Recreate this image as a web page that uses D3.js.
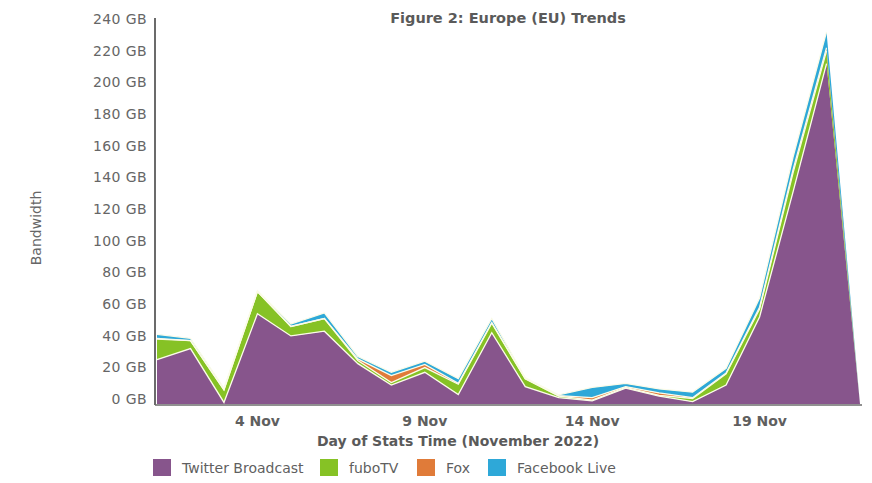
<!DOCTYPE html>
<html>
<head>
<meta charset="utf-8">
<style>
  body { margin: 0; background: #fff; }
  text { font-family: "DejaVu Sans", sans-serif; fill: #666; }
  .title, .x-title { font-weight: bold; fill: #5a5a5a; }
</style>
</head>
<body>
<div id="chart-area"></div>

<script src="https://cdn.jsdelivr.net/npm/d3@7/dist/d3.min.js"></script>
<script>
    // one point per day, 1 Nov .. 22 Nov 2022 (values in GB)
    const days = d3.range(1, 23).map(d => new Date(2022, 10, d));
    const twitter  = [28, 35, 1, 57, 43, 46, 25.5, 12, 20, 6, 45, 11, 4, 2, 10, 5, 1.5, 12, 55, 134, 215, 0];
    const fubo     = [13, 5, 8, 14, 6, 8, 2, 1.5, 3, 6.5, 6, 5, 1, 0.5, 0.5, 0.5, 2, 7, 5, 12, 8, 0];
    const fox      = [0.5, 0, 0, 0, 0, 0, 1, 4.5, 2, 0.5, 0.5, 0, 0.3, 1.5, 0.5, 1.5, 0.5, 0.5, 1, 2, 2, 0];
    const facebook = [2.5, 1.5, 1, 0.5, 1.5, 3.5, 1.5, 2, 2, 3, 2.5, 0.5, 0.5, 6.5, 2, 2.5, 3.5, 3, 6, 8, 10, 0];

    const seriesNames = ["Twitter Broadcast", "fuboTV", "Fox", "Facebook Live"];
    const seriesKeys = ["twitter", "fubo", "fox", "facebook"];
    const colors = ["#87558c", "#86c225", "#e07b39", "#2ea8d8"];
    const yTicks = [0, 20, 40, 60, 80, 100, 120, 140, 160, 180, 200, 220, 240];
    const xTicks = [4, 9, 14, 19].map(d => new Date(2022, 10, d));

    const width = 872;
    const height = 483;

    const rows = days.map((d, i) => ({
        date: d, twitter: twitter[i], fubo: fubo[i], fox: fox[i], facebook: facebook[i]
    }));

    const svg = d3.select("#chart-area")
        .append("svg")
            .attr("width", width)
            .attr("height", height);

    const x = d3.scaleTime()
        .domain(d3.extent(days))
        .range([157, 860]);

    const y = d3.scaleLinear()
        .domain([0, 240])
        .range([404, 24]);

    const stacked = d3.stack().keys(seriesKeys)(rows);

    const area = d3.area()
        .x(d => x(d.data.date))
        .y0(d => y(d[0]))
        .y1(d => y(d[1]));

    // separator lines stop at the last peak, the right edge has none
    const topLine = d3.line()
        .defined((d, i) => i < days.length - 1)
        .x(d => x(d.data.date))
        .y(d => y(d[1]));

    svg.append("g").selectAll("path")
        .data(stacked)
        .join("path")
            .attr("fill", (d, i) => colors[i])
            .attr("d", area);

    svg.append("g").selectAll("path")
        .data(stacked)
        .join("path")
            .attr("fill", "none")
            .attr("stroke", "#fbfbe8")
            .attr("stroke-width", 1.3)
            .attr("d", topLine);

    // axes
    svg.append("line")
        .attr("x1", 155).attr("x2", 155)
        .attr("y1", 18).attr("y2", 405)
        .attr("stroke", "#6b6b6b").attr("stroke-width", 2);
    svg.append("line")
        .attr("x1", 155).attr("x2", 862)
        .attr("y1", 405).attr("y2", 405)
        .attr("stroke", "#6b6b6b").attr("stroke-width", 1.5);

    svg.append("g").selectAll("text")
        .data(yTicks)
        .join("text")
            .attr("x", 147)
            .attr("y", d => y(d) - 5)
            .attr("dy", "0.35em")
            .attr("text-anchor", "end")
            .style("font-size", "14px")
            .style("letter-spacing", "0.4px")
            .text(d => d + " GB");

    svg.append("g").selectAll("text")
        .data(xTicks)
        .join("text")
            .attr("x", d => x(d))
            .attr("y", 421)
            .attr("dy", "0.35em")
            .attr("text-anchor", "middle")
            .style("font-size", "14px")
            .style("font-weight", "bold")
            .style("fill", "#5f5f5f")
            .text(d3.timeFormat("%-d Nov"));

    svg.append("text")
        .attr("class", "title")
        .attr("x", 508).attr("y", 18)
        .attr("dy", "0.35em")
        .attr("text-anchor", "middle")
        .style("font-size", "14.5px")
        .text("Figure 2: Europe (EU) Trends");

    svg.append("text")
        .attr("class", "x-title")
        .attr("x", 458).attr("y", 441)
        .attr("dy", "0.35em")
        .attr("text-anchor", "middle")
        .style("font-size", "14px")
        .text("Day of Stats Time (November 2022)");

    svg.append("text")
        .attr("transform", "translate(36,228) rotate(-90)")
        .attr("dy", "0.35em")
        .attr("text-anchor", "middle")
        .style("font-size", "14px")
        .text("Bandwidth");

    // legend
    const legendX = [153, 320, 417, 488];
    const legend = svg.append("g").selectAll("g")
        .data(seriesNames)
        .join("g")
            .attr("transform", (d, i) => `translate(${legendX[i]}, 459)`);
    legend.append("rect")
        .attr("width", 18).attr("height", 17)
        .attr("fill", (d, i) => colors[i]);
    legend.append("text")
        .attr("x", 29).attr("y", 9)
        .attr("dy", "0.35em")
        .style("font-size", "14px")
        .style("fill", "#5f5f5f")
        .text(d => d);
</script>
</body>
</html>
